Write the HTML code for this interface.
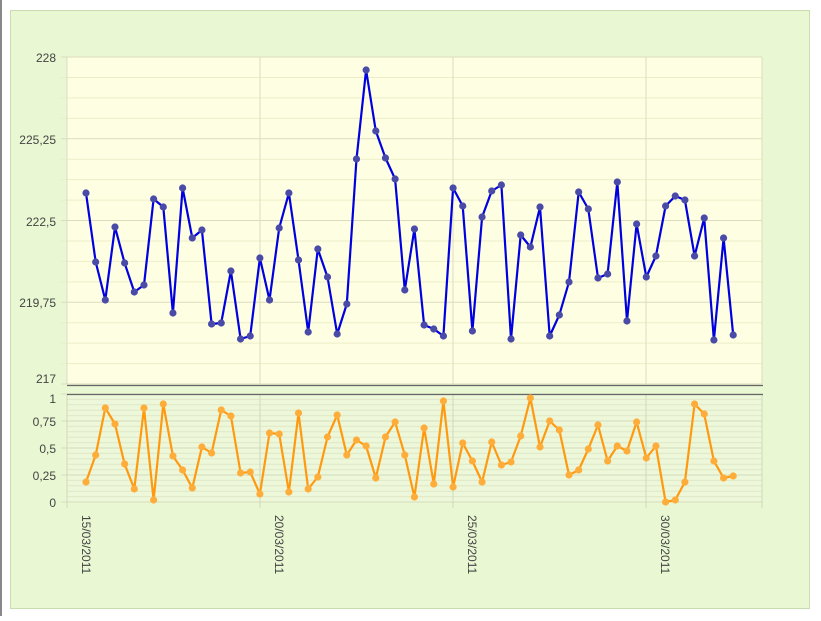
<!DOCTYPE html>
<html><head><meta charset="utf-8"><style>
body{margin:0;background:#fff;width:821px;height:616px;overflow:hidden;font-family:"Liberation Sans","DejaVu Sans",sans-serif}
</style></head><body>
<svg id="s" width="821" height="616" xmlns="http://www.w3.org/2000/svg" font-family="Liberation Sans, DejaVu Sans, sans-serif">
<rect x="0" y="0" width="2" height="616" fill="#888"/>
<rect x="10.5" y="10.5" width="799" height="598" fill="#e9f7d3" stroke="#c9dcb0"/>
<rect x="67" y="57" width="695" height="327" fill="#fefee2"/>
<rect x="67" y="394" width="695" height="108" fill="#edf7d9"/>
<g id="grid"></g>
<line x1="67" y1="385.5" x2="763" y2="385.5" stroke="#666" stroke-width="1.2"/>
<line x1="67" y1="394.5" x2="763" y2="394.5" stroke="#666" stroke-width="1.2"/>
<g id="lbl" font-size="12" fill="#444" text-anchor="end">
<text x="56" y="62">228</text>
<text x="56" y="144">225,25</text>
<text x="56" y="226">222,5</text>
<text x="56" y="307">219,75</text>
<text x="56" y="383">217</text>
<text x="56" y="403">1</text>
<text x="56" y="426">0,75</text>
<text x="56" y="453">0,5</text>
<text x="56" y="480">0,25</text>
<text x="56" y="507">0</text>
</g>
<g font-size="12" fill="#444">
<text transform="translate(82,515) rotate(90)">15/03/2011</text>
<text transform="translate(275,515) rotate(90)">20/03/2011</text>
<text transform="translate(468,515) rotate(90)">25/03/2011</text>
<text transform="translate(661,515) rotate(90)">30/03/2011</text>
</g>
<g id="data"></g>
</svg>
<script>
var ns="http://www.w3.org/2000/svg",g=document.getElementById("grid"),d=document.getElementById("data");
function L(p,a){var e=document.createElementNS(ns,"line");for(var k in a)e.setAttribute(k,a[k]);p.appendChild(e);}
for(var i=0;i<=16;i++){var y=57+i*327/16;L(g,{x1:61,x2:762,y1:y,y2:y,stroke:i%4==0?"#dcdcbc":"#ecedc8","stroke-width":1});}
for(var i=0;i<=20;i++){var y=394+i*108/20;L(g,{x1:i%5==0?61:67,x2:762,y1:y,y2:y,stroke:i%5==0?"#d4dcbc":"#dfe8c8","stroke-width":1});}
[67,260,453,646,762].forEach(function(x){L(g,{x1:x,x2:x,y1:57,y2:384,stroke:"#dcdcc4"});L(g,{x1:x,x2:x,y1:394,y2:508,stroke:"#d0d8bc"});});
var b=[193,262,300,227,263,292,285,199,207,313,188,238,230,324,323,271,339,336,258,300,228,193,260,332,249,277,334,304,159,70,131,158,179,290,229,325,329,336,188,206,331,217,191,185,339,235,247,207,336,315,282,192,209,278,274,182,321,224,277,256,206,196,200,256,218,340,238,335];
var o=[482,455,408,424,464,489,408,500,404,456,470,488,447,453,410,416,473,472,494,433,434,492,413,489,477,437,415,455,440,446,478,437,422,455,497,428,484,401,487,443,461,482,442,465,462,436,398,447,421,430,475,470,449,425,461,446,451,422,458,446,502,500,482,404,414,461,478,476];
function S(arr,col,dot){var pts=arr.map(function(y,i){return (86+i*9.66).toFixed(1)+","+y}).join(" ");
var p=document.createElementNS(ns,"polyline");p.setAttribute("points",pts);p.setAttribute("fill","none");p.setAttribute("stroke",col);p.setAttribute("stroke-width","2.2");p.setAttribute("stroke-linejoin","round");d.appendChild(p);
arr.forEach(function(y,i){var c=document.createElementNS(ns,"circle");c.setAttribute("cx",86+i*9.66);c.setAttribute("cy",y);c.setAttribute("r",3.6);c.setAttribute("fill",dot);d.appendChild(c);});}
S(b,"#0000e0","#4a4aa8");S(o,"#ff9a10","#ffad3a");
</script>
</body></html>
